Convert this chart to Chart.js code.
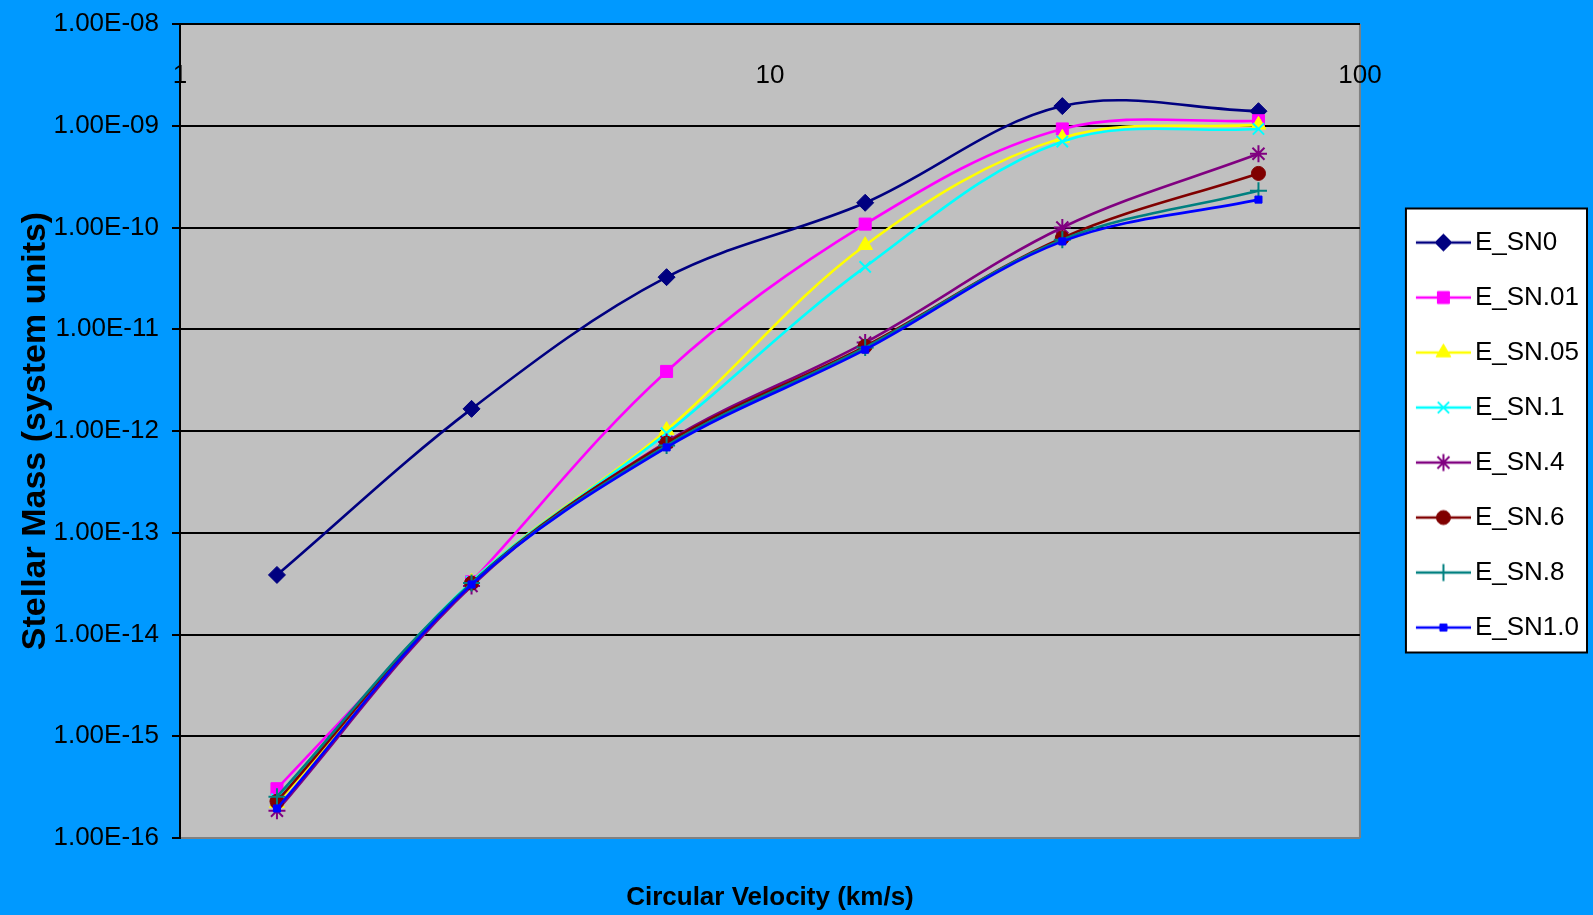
<!DOCTYPE html>
<html>
<head>
<meta charset="utf-8">
<title>Stellar Mass vs Circular Velocity</title>
<script src="https://cdn.jsdelivr.net/npm/chart.js@4.4.1/dist/chart.umd.min.js"></script>
<style>
  html, body { margin: 0; padding: 0; background: #0099ff; }
  #wrap { width: 1593px; height: 915px; }
</style>
</head>
<body>
<div id="wrap"><canvas id="massChart"></canvas></div>
<script>
// circular velocity (km/s) of the six models
const velocities = [1.46, 3.12, 6.68, 14.5, 31.3, 67.3];

const seriesNames = ['E_SN0', 'E_SN.01', 'E_SN.05', 'E_SN.1', 'E_SN.4', 'E_SN.6', 'E_SN.8', 'E_SN1.0'];
const eSN0   = [3.85e-14, 1.65e-12, 3.25e-11, 1.75e-10, 1.56e-9, 1.39e-9];
const eSN01  = [3.05e-16, 3.3e-14, 3.85e-12, 1.08e-10, 9.3e-10, 1.12e-9];
const eSN05  = [2.2e-16, 3.3e-14, 1.02e-12, 6.7e-11, 7.6e-10, 1.02e-9];
const eSN1   = [2.4e-16, 3.3e-14, 9.5e-13, 4.1e-11, 7.0e-10, 9.3e-10];
const eSN4   = [1.85e-16, 3.0e-14, 7.8e-13, 7.4e-12, 1.0e-10, 5.3e-10];
const eSN6   = [2.3e-16, 3.2e-14, 7.6e-13, 6.8e-12, 7.9e-11, 3.4e-10];
const eSN8   = [2.55e-16, 3.2e-14, 7.2e-13, 6.6e-12, 7.6e-11, 2.3e-10];
const eSN10  = [1.95e-16, 3.1e-14, 6.9e-13, 6.3e-12, 7.3e-11, 1.88e-10];
const seriesValues = [eSN0, eSN01, eSN05, eSN1, eSN4, eSN6, eSN8, eSN10];

const xTicks = [1, 10, 100];
const xTickLabels = ['1', '10', '100'];
const yTicks = [1e-16, 1e-15, 1e-14, 1e-13, 1e-12, 1e-11, 1e-10, 1e-9, 1e-8];
const yTickLabels = ['1.00E-16', '1.00E-15', '1.00E-14', '1.00E-13', '1.00E-12',
                     '1.00E-11', '1.00E-10', '1.00E-09', '1.00E-08'];

// marker look of each series (Excel style)
const seriesStyles = [
  { color: '#000080', pointStyle: 'rectRot',  radius: 8.5, pointBorderWidth: 1 },
  { color: '#ff00ff', pointStyle: 'rect',     radius: 8.5, pointBorderWidth: 1 },
  { color: '#ffff00', pointStyle: 'triangle', radius: 8.5, pointBorderWidth: 1 },
  { color: '#00ffff', pointStyle: 'crossRot', radius: 8,   pointBorderWidth: 2 },
  { color: '#800080', pointStyle: 'star',     radius: 8.5, pointBorderWidth: 2 },
  { color: '#800000', pointStyle: 'circle',   radius: 7,   pointBorderWidth: 1 },
  { color: '#008080', pointStyle: 'cross',    radius: 8.5, pointBorderWidth: 2 },
  { color: '#0000ff', pointStyle: 'rect',     radius: 5,   pointBorderWidth: 1 }
];

const sans = "'Liberation Sans', Arial, sans-serif";
Chart.defaults.font.family = sans;
Chart.defaults.color = '#000';

// little line + marker pictures for the legend
function legendSample(style) {
  const c = document.createElement('canvas');
  c.width = 60;
  c.height = 26;
  const g = c.getContext('2d');
  g.strokeStyle = style.color;
  g.fillStyle = style.color;
  g.lineWidth = 2.6;
  g.beginPath();
  g.moveTo(5, 13);
  g.lineTo(60, 13);
  g.stroke();
  g.lineWidth = style.pointBorderWidth;
  if (Chart.helpers && Chart.helpers.drawPoint) {
    Chart.helpers.drawPoint(g, {
      pointStyle: style.pointStyle, radius: style.radius,
      borderWidth: style.pointBorderWidth, rotation: 0
    }, 32.5, 13);
  } else {
    g.beginPath();
    g.arc(32.5, 13, 6, 0, Math.PI * 2);
    g.fill();
  }
  return c;
}
const samples = seriesStyles.map(legendSample);

const datasets = seriesNames.map((name, i) => {
  const s = seriesStyles[i];
  return {
    label: name,
    data: velocities.map((v, j) => ({ x: v, y: seriesValues[i][j] })),
    xAxisID: 'x',
    yAxisID: 'y',
    order: seriesNames.length - 1 - i,   // later series drawn on top, like Excel
    borderColor: s.color,
    backgroundColor: s.color,
    borderWidth: 2.6,
    tension: 0.35,
    pointStyle: s.pointStyle,
    pointRadius: s.radius,
    pointBackgroundColor: s.color,
    pointBorderColor: s.color,
    pointBorderWidth: s.pointBorderWidth
  };
});

// gray plot area, blue page, legend frame
const backdrop = {
  id: 'backdrop',
  beforeDraw(chart) {
    const { ctx, chartArea: a, legend } = chart;
    ctx.save();
    ctx.fillStyle = '#0099ff';
    ctx.fillRect(0, 0, chart.width, chart.height);
    ctx.fillStyle = '#c0c0c0';
    ctx.fillRect(a.left, a.top, a.right - a.left, a.bottom - a.top);
    ctx.strokeStyle = '#808080';
    ctx.lineWidth = 2;
    ctx.beginPath();
    ctx.moveTo(a.right, a.top);
    ctx.lineTo(a.right, a.bottom);
    ctx.stroke();

    const boxes = legend && legend.legendHitBoxes;
    if (boxes && boxes.length) {
      const first = boxes[0];
      const last = boxes[boxes.length - 1];
      const x0 = first.left - 14, y0 = first.top - 21;
      const x1 = legend.right - 2, y1 = last.top + last.height + 12;
      ctx.fillStyle = '#fff';
      ctx.fillRect(x0, y0, x1 - x0, y1 - y0);
      ctx.strokeStyle = '#000';
      ctx.lineWidth = 2;
      ctx.strokeRect(x0, y0, x1 - x0, y1 - y0);
    }
    ctx.restore();
  }
};

new Chart(document.getElementById('massChart'), {
  type: 'line',
  data: { datasets },
  plugins: [backdrop],
  options: {
    responsive: true,
    maintainAspectRatio: false,
    animation: false,
    events: [],
    layout: { padding: { left: 0, right: 4, top: 0, bottom: 0 } },
    scales: {
      x: {
        type: 'logarithmic',
        axis: 'x',
        position: 'top',
        min: 1,
        max: 100,
        afterBuildTicks: s => { s.ticks = xTicks.map(v => ({ value: v })); },
        afterFit: s => { s.height = 24; },
        ticks: {
          mirror: true,
          padding: 36,
          autoSkip: false,
          maxRotation: 0,
          color: '#000',
          font: { family: sans, size: 26 },
          callback: (v, i) => xTickLabels[i]
        },
        grid: { display: false, drawTicks: false },
        border: { display: true, color: '#000', width: 2 }
      },
      xb: {
        type: 'logarithmic',
        axis: 'x',
        position: 'bottom',
        min: 1,
        max: 100,
        afterFit: s => { s.height = 77; },
        ticks: { display: false },
        grid: { display: false, drawTicks: false },
        border: { display: false },
        title: {
          display: true,
          text: 'Circular Velocity (km/s)',
          color: '#000',
          font: { family: sans, size: 26, weight: 'bold' },
          padding: { top: 0, bottom: 2 }
        }
      },
      y: {
        type: 'logarithmic',
        position: 'left',
        min: 1e-16,
        max: 1e-8,
        afterBuildTicks: s => { s.ticks = yTicks.map(v => ({ value: v })); },
        afterFit: s => { s.width = 180; s.paddingTop = 0; s.paddingBottom = 0; },
        ticks: {
          padding: 13,
          color: '#000',
          font: { family: sans, size: 26 },
          callback: (v, i) => yTickLabels[i]
        },
        grid: {
          color: c => (c.tick && c.tick.value === yTicks[0]) ? '#808080' : '#000',
          lineWidth: 2,
          drawTicks: true,
          tickLength: 8,
          tickColor: '#000',
          tickWidth: 2
        },
        border: { display: true, color: '#000', width: 2 },
        title: {
          display: true,
          text: 'Stellar Mass (system units)',
          color: '#000',
          font: { family: sans, size: 34, weight: 'bold' },
          padding: { top: 15, bottom: 0 }
        }
      },
      yr: {
        type: 'linear',
        axis: 'y',
        position: 'right',
        min: 0,
        max: 1,
        afterFit: s => { s.width = 31; },
        ticks: { display: false },
        grid: { display: false, drawTicks: false },
        border: { display: false }
      }
    },
    plugins: {
      title: { display: false },
      tooltip: { enabled: false },
      legend: {
        position: 'right',
        align: 'center',
        fullSize: false,
        title: { display: true, text: ' ', font: { size: 6.67 }, padding: 0 },
        labels: {
          usePointStyle: true,
          pointStyleWidth: 42,
          padding: 29,
          color: '#000',
          font: { family: sans, size: 26 },
          generateLabels(chart) {
            const items = Chart.defaults.plugins.legend.labels.generateLabels(chart);
            items.sort((a, b) => a.datasetIndex - b.datasetIndex);
            items.forEach(it => {
              it.pointStyle = samples[it.datasetIndex];
              it.fontColor = '#000';
            });
            return items;
          }
        }
      }
    }
  }
});
</script>
</body>
</html>
